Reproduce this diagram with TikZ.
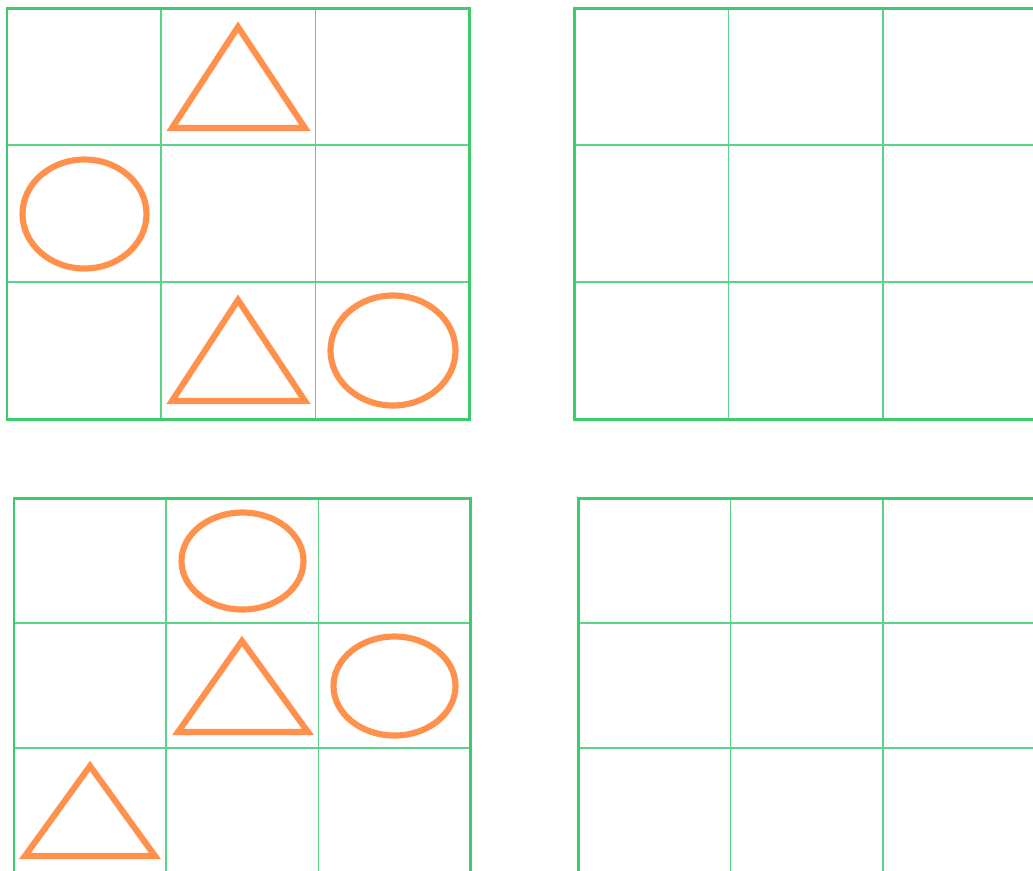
\documentclass[tikz,border=0pt]{standalone}
\usetikzlibrary{arrows.meta}
\usepackage{xcolor}
\definecolor{gridgreen}{HTML}{3DCC6A}
\definecolor{innergreen}{HTML}{5BD585}
\definecolor{figorange}{HTML}{FF914D}

\tikzset{
    outerline/.style={draw=gridgreen, line width=1.7pt},
    innerline/.style={draw=innergreen, line width=1pt},
    figline/.style={draw=figorange, line width=3.5pt}
}

% #1 x, #2 y, #3 cell width, #4 cell height
\newcommand{\board}[4]{%
    \foreach \i in {1,2} {
        \draw[innerline] ({#1+\i*#3},#2) -- ({#1+\i*#3},{#2+3*#4});
        \draw[innerline] (#1,{#2+\i*#4}) -- ({#1+3*#3},{#2+\i*#4});
    }
    \draw[outerline] (#1,#2) rectangle ({#1+3*#3},{#2+3*#4});
}

\begin{document}
\begin{tikzpicture}[x=0.02cm, y=-0.02cm]
    \useasboundingbox (0,0) rectangle (1033,870);
    \clip (0,0) rectangle (1033,870);
    \board{7}{8}{154.3}{137}
    \board{574}{8}{154.5}{137}
    \board{14}{498}{152.3}{125}
    \board{578}{498}{152.5}{125}
        % top left
        \draw[figline] (238,27) -- (305,128) -- (172,128) -- cycle;
        \draw[figline] (84.5,214) ellipse [x radius=62, y radius=54.5];
        \draw[figline] (238,300) -- (305,401) -- (172,401) -- cycle;
        \draw[figline] (393,350.5) ellipse [x radius=62.5, y radius=55];
        % bottom left
        \draw[figline] (242.5,561) ellipse [x radius=61, y radius=48.5];
        \draw[figline] (242,641) -- (308,732) -- (178,732) -- cycle;
        \draw[figline] (394.5,686) ellipse [x radius=61, y radius=49.5];
        \draw[figline] (90,766) -- (155,856) -- (25,856) -- cycle;
\end{tikzpicture}
\end{document}
